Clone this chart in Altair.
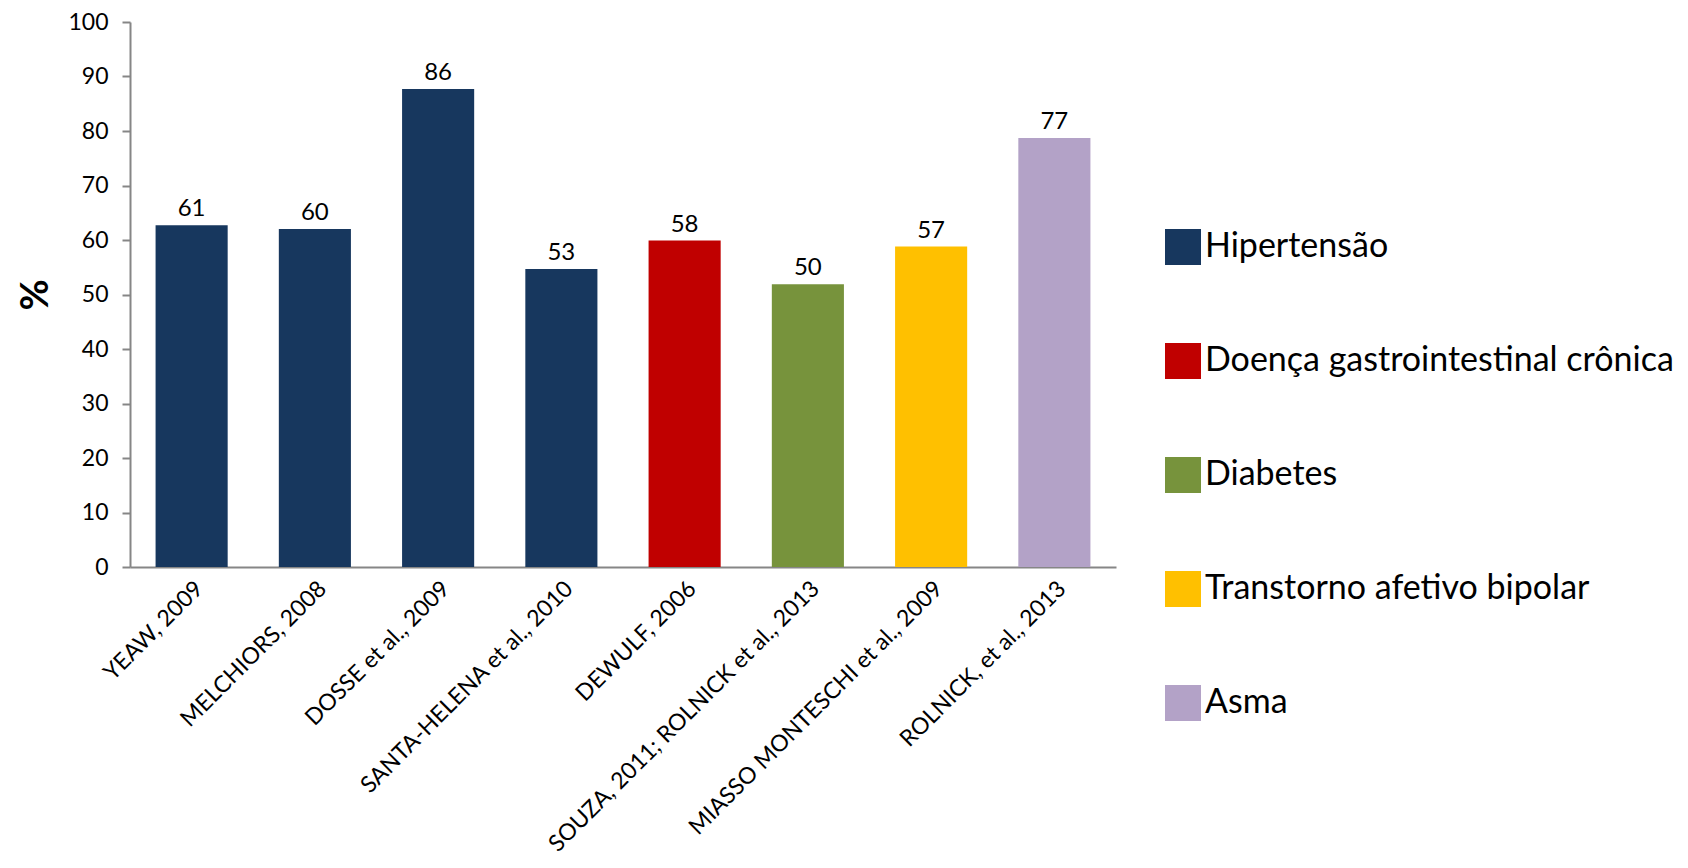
import altair as alt
import pandas as pd

studies = [
    "YEAW, 2009",
    "MELCHIORS, 2008",
    "DOSSE et al., 2009",
    "SANTA-HELENA et al., 2010",
    "DEWULF, 2006",
    "SOUZA, 2011; ROLNICK et al., 2013",
    "MIASSO MONTESCHI et al., 2009",
    "ROLNICK, et al., 2013",
]
bar_values = [62.7, 62.0, 87.7, 54.7, 59.9, 51.9, 58.8, 78.7]
bar_labels = ["61", "60", "86", "53", "58", "50", "57", "77"]
diseases = [
    "Hipertensão", "Hipertensão", "Hipertensão", "Hipertensão",
    "Doença gastrointestinal crônica", "Diabetes",
    "Transtorno afetivo bipolar", "Asma",
]
legend_order = [
    "Hipertensão",
    "Doença gastrointestinal crônica",
    "Diabetes",
    "Transtorno afetivo bipolar",
    "Asma",
]
legend_colors = ["#17375E", "#C00000", "#77933C", "#FFC000", "#B3A2C7"]
y_ticks = [0, 10, 20, 30, 40, 50, 60, 70, 80, 90, 100]

df = pd.DataFrame({
    "study": studies,
    "value": bar_values,
    "label": bar_labels,
    "disease": diseases,
})

FONT = "Lato"

x_enc = alt.X(
    "study:N",
    sort=studies,
    scale=alt.Scale(paddingInner=0.415, paddingOuter=0.2075),
    axis=alt.Axis(
        title=None,
        labelAngle=-45,
        labelFontSize=23,
        labelFont=FONT,
        labelColor="#000000",
        labelPadding=10,
        ticks=False,
        domainColor="#868686",
        domainWidth=2,
        labelLimit=500,
    ),
)
y_enc = alt.Y(
    "value:Q",
    scale=alt.Scale(domain=[0, 100], nice=False),
    axis=alt.Axis(
        title="%",
        titleFontSize=38,
        titleFont=FONT,
        titleFontWeight="bold",
        titleColor="#000000",
        titlePadding=12,
        values=y_ticks,
        labelFontSize=23,
        labelFont=FONT,
        labelColor="#000000",
        labelPadding=14,
        tickSize=8,
        tickColor="#868686",
        tickWidth=2,
        domainColor="#868686",
        domainWidth=2,
        grid=False,
    ),
)

bars = alt.Chart(df).mark_bar().encode(
    x=x_enc,
    y=y_enc,
    color=alt.Color(
        "disease:N",
        scale=alt.Scale(domain=legend_order, range=legend_colors),
        legend=alt.Legend(
            title=None,
            orient="none",
            legendX=1035,
            legendY=207,
            symbolType="square",
            symbolSize=1296,
            symbolStrokeWidth=0,
            symbolOpacity=1,
            labelFontSize=34,
            labelFont=FONT,
            labelColor="#000000",
            labelOffset=4,
            rowPadding=78,
            padding=0,
            labelLimit=700,
        ),
    ),
)

texts = alt.Chart(df).mark_text(
    baseline="alphabetic", dy=-9, fontSize=24, font=FONT, color="#000000"
).encode(
    x=alt.X("study:N", sort=studies),
    y=alt.Y("value:Q"),
    text="label:N",
)

chart = (
    alt.layer(bars, texts)
    .properties(
        width=986,
        height=545,
        background="#ffffff",
        padding={"top": 3, "left": 9, "right": 5, "bottom": 5},
    )
    .configure_view(stroke=None)
)

chart.save("out.html", embed_options={"renderer": "svg", "actions": False})
